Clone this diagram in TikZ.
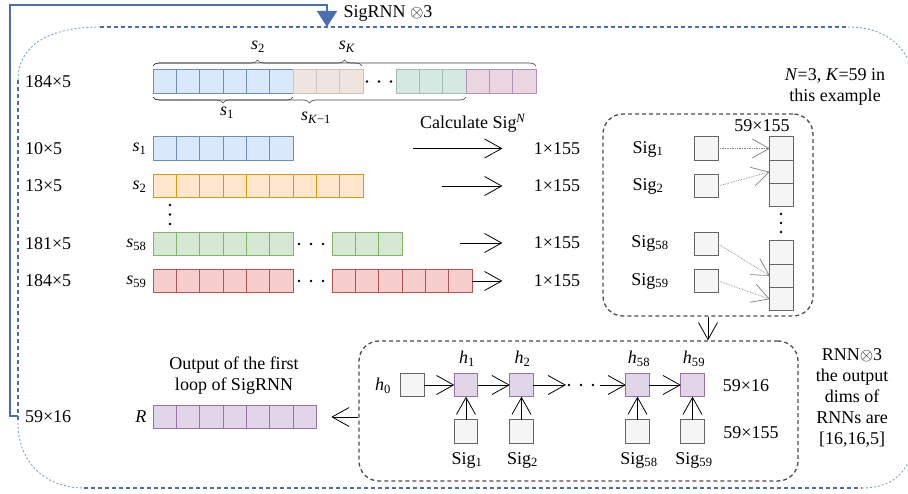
\documentclass[tikz,border=0pt]{standalone}
\usepackage{fontspec}
\setmainfont{Liberation Serif}
\usepackage{tikz}
\usetikzlibrary{arrows.meta, positioning, decorations.pathreplacing}
\definecolor{bluefill}{HTML}{DAE8FC}
\definecolor{bluedraw}{HTML}{6C8EBF}
\definecolor{orangefill}{HTML}{FFE6CC}
\definecolor{orangedraw}{HTML}{D79B00}
\definecolor{greenfill}{HTML}{D5E8D4}
\definecolor{greendraw}{HTML}{82B366}
\definecolor{redfill}{HTML}{F8CECC}
\definecolor{reddraw}{HTML}{B85450}
\definecolor{purplefill}{HTML}{E1D5E7}
\definecolor{purpledraw}{HTML}{9673A6}
\definecolor{greyfill}{HTML}{F5F5F5}
\definecolor{greydraw}{HTML}{666666}
\definecolor{topbeige}{HTML}{EEE5DE}
\definecolor{topbeigedraw}{HTML}{CFC4BC}
\definecolor{topteal}{HTML}{D6E8E2}
\definecolor{toptealdraw}{HTML}{9DBFB4}
\definecolor{toppink}{HTML}{E9D6E0}
\definecolor{toppinkdraw}{HTML}{AE93B8}
\definecolor{framegray}{HTML}{4D4D4D}
\definecolor{loopblue}{HTML}{4A6FAF}
\definecolor{loopthin}{HTML}{7F9FD0}
\tikzstyle{cell} = [draw, rectangle, minimum size=23.33pt, inner sep=0pt, outer sep=0pt, line width=0.8pt]
\tikzstyle{box} = [cell, fill=greyfill, draw=greydraw]
\tikzstyle{hbox} = [cell, fill=purplefill, draw=purpledraw]
\tikzstyle{flow} = [draw, line width=0.8pt, -{Straight Barb[length=17pt,width=19pt]}]
\tikzstyle{dotflow} = [draw=gray, densely dotted, line width=0.7pt, -{Straight Barb[length=17pt,width=19pt]}]
\tikzstyle{frame} = [draw=framegray, dash pattern=on 4pt off 3pt, line width=1.3pt, rounded corners=20pt]
\tikzstyle{brc} = [draw=darkgray, line width=0.6pt, decorate, decoration={brace, amplitude=6pt}]
\tikzstyle{loopdash} = [draw=loopblue, dash pattern=on 4pt off 3pt, line width=2.4pt]
\tikzstyle{loopcurve} = [draw=loopthin, dash pattern=on 2pt off 2pt, line width=0.9pt]
\newcommand{\subix}[1]{\textsubscript{#1}}
\newcommand{\cellrow}[6]{\foreach \k in {1,...,#4}
    \node [cell, fill=#5, draw=#6] (#1-\k) at ({#2+(\k-0.5)*23.33}, #3) {};}
\newcommand{\threedots}[2]{\foreach \k in {-1,0,1}
    \fill ({#1+\k*12}, #2) circle (1.4pt);}

\begin{document}
\begin{tikzpicture}[x=1pt, y=-1pt, font=\fontsize{18}{21}\selectfont]
    \useasboundingbox (0,0) rectangle (908,494);
    % outer SigRNN loop
    \draw[loopdash] (100,27) -- (848,27);
    \draw[loopdash] (18,80) -- (18,423);
    \draw[loopdash] (84,488) -- (862,488);
    \draw[loopcurve] (18,80) .. controls (18,45) and (50,27) .. (100,27);
    \draw[loopcurve] (18,423) .. controls (18,462) and (45,488) .. (84,488);
    \draw[loopcurve] (848,27) .. controls (885,27) and (905,45) .. (915,75);
    \draw[loopcurve] (862,488) .. controls (895,488) and (910,470) .. (915,440);
    \coordinate (loopout) at (18,416);
    \coordinate (loopin) at (327,27);
    \draw[draw=loopblue, line width=1.2pt, -{Triangle[length=16pt,width=20pt]}]
        (loopout) -- (10,416) -- (10,5) -- (327,5) -- (loopin);
    \node [anchor=west] (title) at (340,13) {SigRNN $\otimes$3};

    % the whole series and its pieces
    \node [anchor=west] (dim0) at (21.5,82) {184×5};
    \cellrow{ta}{153}{81.5}{6}{bluefill}{bluedraw}
    \cellrow{tb}{293}{81.5}{3}{topbeige}{topbeigedraw}
    \threedots{379}{81.5}
    \cellrow{tc}{396}{81.5}{3}{topteal}{toptealdraw}
    \cellrow{td}{466}{81.5}{3}{toppink}{toppinkdraw}
    \draw[brc] (153,66) -- (362,66);
    \draw[brc] (153,66) -- (536,66);
    \draw[brc] (293,97) -- (153,97);
    \draw[brc] (466,97) -- (153,97);
    \node (bs2) at (258,47) {\textit{s}\subix{2}};
    \node (bsK) at (347,47) {\textit{s}\subix{\textit{K}}};
    \node (bs1) at (227,113) {\textit{s}\subix{1}};
    \node (bsK1) at (316,118) {\textit{s}\subix{\textit{K}−1}};
    \node (note) [align=center] at (835,87) {\textit{N}=3, \textit{K}=59 in\\this example};

    % rows
    \node [anchor=west] (dim1) at (21.5,148.5) {10×5};
    \node [anchor=west] (dim2) at (21.5,186) {13×5};
    \node [anchor=west] (dim58) at (21.5,244) {181×5};
    \node [anchor=west] (dim59) at (21.5,281) {184×5};
    \node [anchor=east] (s1) at (150,149) {\textit{s}\subix{1}};
    \node [anchor=east] (s2) at (150,187) {\textit{s}\subix{2}};
    \node [anchor=east] (s58) at (150,245) {\textit{s}\subix{58}};
    \node [anchor=east] (s59) at (150,282) {\textit{s}\subix{59}};
    \cellrow{ra}{153}{148.5}{6}{bluefill}{bluedraw}
    \cellrow{rb}{153}{186}{9}{orangefill}{orangedraw}
    \foreach \k in {0,1,2} \fill (170,{205+\k*9.5}) circle (1.4pt);
    \cellrow{rc}{153}{244}{6}{greenfill}{greendraw}
    \threedots{311}{244}
    \cellrow{rd}{332}{244}{3}{greenfill}{greendraw}
    \cellrow{re}{153}{281}{6}{redfill}{reddraw}
    \threedots{311}{281}
    \cellrow{rf}{332}{281}{6}{redfill}{reddraw}

    % signatures
    \node (calc) at (473,123) {Calculate Sig\textsuperscript{\textit{N}}};
    \node (d1) at (557,148.5) {1×155};
    \node (d2) at (557,186) {1×155};
    \node (d58) at (557,243) {1×155};
    \node (d59) at (557,281) {1×155};
    \coordinate (c1) at (413,148.5);
    \coordinate (c2) at (442,186);
    \coordinate (c58) at (460,243);
    \draw[flow, shorten >=28pt] (c1) -- (d1);
    \draw[flow, shorten >=28pt] (c2) -- (d2);
    \draw[flow, shorten >=28pt] (c58) -- (d58);
    \draw[flow, shorten >=28pt] (rf-6.east) -- (d59);

    % stacking box
    \node [frame, minimum width=210pt, minimum height=202pt] (sigframe) at (708,215) {};
    \node (stdim) at (762,126) {59×155};
    \node (sl1) at (648,149) {Sig\subix{1}};
    \node (sl2) at (648,186) {Sig\subix{2}};
    \node (sl58) at (650,243) {Sig\subix{58}};
    \node (sl59) at (650,281) {Sig\subix{59}};
    \node [box] (sg1) at (706.5,148.5) {};
    \node [box] (sg2) at (706.5,186) {};
    \node [box] (sg58) at (706.5,244) {};
    \node [box] (sg59) at (706.5,281) {};
    \node [box] (st1) at (781.5,148.5) {};
    \node [box, below=0pt of st1] (st2) {};
    \node [box, below=0pt of st2] (st3) {};
    \foreach \k in {0,1,2} \fill (781,{214+\k*9}) circle (1.4pt);
    \node [box] (st4) at (781.5,252.5) {};
    \node [box, below=0pt of st4] (st5) {};
    \node [box, below=0pt of st5] (st6) {};
    \draw[dotflow] (sg1.east) -- (st1.west);
    \draw[dotflow] (sg2.east) -- (st2.west);
    \draw[dotflow] (sg58.east) -- (st5.west);
    \draw[dotflow] (sg59.east) -- (st6.west);

    % RNN
    \node [frame, minimum width=439pt, minimum height=140pt] (rnn) at (578.5,411) {};
    \draw[flow] (sigframe.south) -- (sigframe.south |- rnn.north);
    \node [box] (h0) at (412.5,385) {};
    \node [hbox] (h1) at (466,385) {};
    \node [hbox] (h2) at (521.5,385) {};
    \node [hbox] (h58) at (637.5,385) {};
    \node [hbox] (h59) at (692.5,385) {};
    \node [box] (x1) at (466,431.5) {};
    \node [box] (x2) at (521.5,431.5) {};
    \node [box] (x58) at (637.5,431.5) {};
    \node [box] (x59) at (692.5,431.5) {};
    \node (lh0) at (383,386) {\textit{h}\subix{0}};
    \node (lh1) at (467,359) {\textit{h}\subix{1}};
    \node (lh2) at (522.5,359) {\textit{h}\subix{2}};
    \node (lh58) at (639,359) {\textit{h}\subix{58}};
    \node (lh59) at (694,359) {\textit{h}\subix{59}};
    \node (lx1) at (467,460) {Sig\subix{1}};
    \node (lx2) at (522.5,460) {Sig\subix{2}};
    \node (lx58) at (639,460) {Sig\subix{58}};
    \node (lx59) at (694,460) {Sig\subix{59}};
    \coordinate (dl) at (566,385);
    \coordinate (dr) at (600,385);
    \threedots{581}{385}
    \draw[flow] (h0) -- (h1);
    \draw[flow] (h1) -- (h2);
    \draw[flow] (h2) -- (dl);
    \draw[flow] (dr) -- (h58);
    \draw[flow] (h58) -- (h59);
    \draw[flow] (x1) -- (h1);
    \draw[flow] (x2) -- (h2);
    \draw[flow] (x58) -- (h58);
    \draw[flow] (x59) -- (h59);
    \node (hdim) at (746,386) {59×16};
    \node (xdim) at (751,433) {59×155};
    \node (rnnnote) [align=center] at (852,397.5) {RNN$\otimes$3\\the output\\dims of\\RNNs are\\{}[16,16,5]};

    % output of the loop
    \node [align=center] (outtext) at (234,376) {Output of the first\\loop of SigRNN};
    \node [anchor=west] (dimR) at (21.5,417) {59×16};
    \node [anchor=east] (rl) at (150,417) {\textit{R}};
    \cellrow{r}{153}{417}{7}{purplefill}{purpledraw}
    \draw[flow, shorten >=15pt] (rnn.west |- r-7) -- (r-7.east);
\end{tikzpicture}
\end{document}
